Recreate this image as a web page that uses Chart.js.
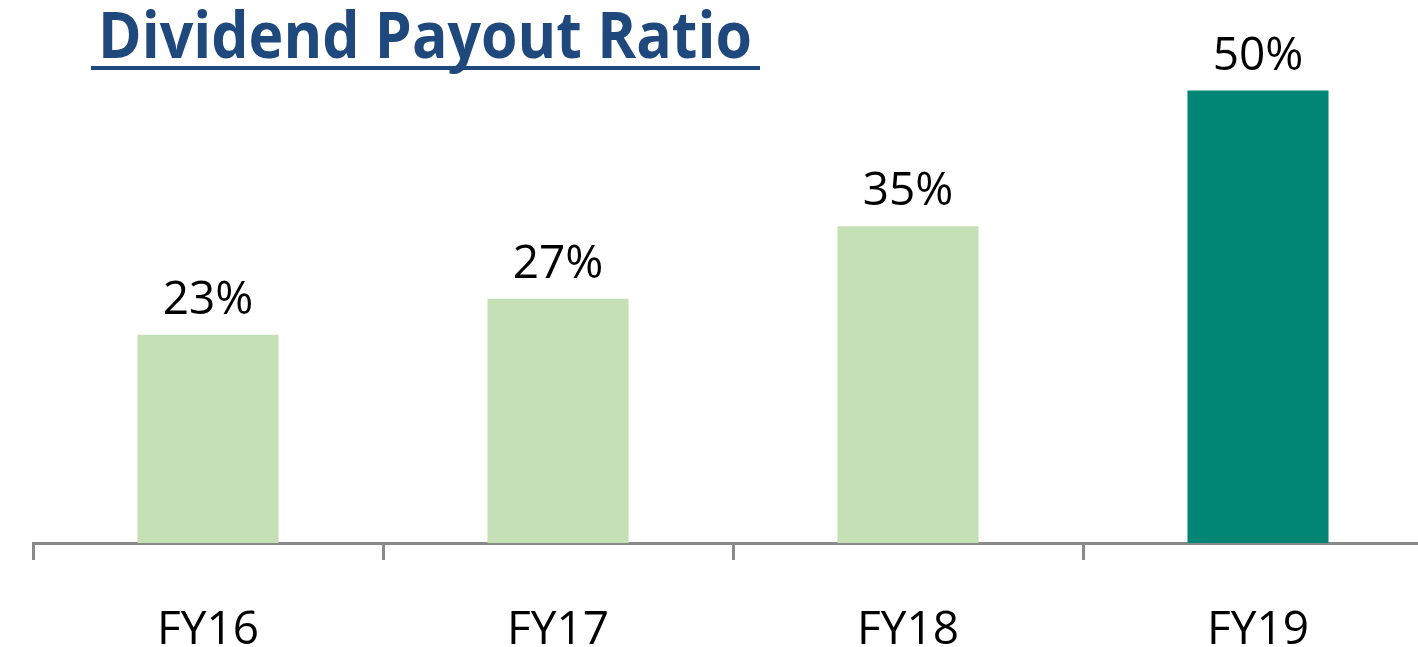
<!DOCTYPE html>
<html>
<head>
<meta charset="utf-8">
<script src="https://cdn.jsdelivr.net/npm/chart.js@4"></script>
<style>
  body { margin: 0; background: #fff; overflow: hidden; }
  #wrap { position: absolute; left: 0; top: 0; width: 1440px; height: 647px; }
  #title {
    position: absolute; left: 91px; top: 1px; width: 669px; height: 64px;
    padding-bottom: 1px; border-bottom: 4px solid #1F497D;
    font-family: 'Open Sans', sans-serif; font-weight: bold; font-size: 65px;
    line-height: 64px; color: #1F497D; white-space: nowrap;
  }
  #title span { display: inline-block; margin-left: 7px; transform-origin: 0 0; }
</style>
</head>
<body>
<div id="wrap">
  <canvas id="myChart" width="1440" height="647"></canvas>
</div>
<div id="title"><span id="titleText">Dividend Payout Ratio</span></div>
<script>
// chart values
const categories = ['FY16', 'FY17', 'FY18', 'FY19'];
const payoutRatio = [23, 27, 35, 50];
const barColors = ['#C5E0B4', '#C5E0B4', '#C5E0B4', '#038575'];

document.addEventListener('DOMContentLoaded', function() {
    // squeeze title to the width of the original (Calibri-like) text
    const t = document.getElementById('titleText');
    const w = t.getBoundingClientRect().width;
    t.style.transform = 'scaleX(' + (654 / w) + ')';

    Chart.defaults.font.family = "'Open Sans', sans-serif";

    const valueLabels = {
        id: 'valueLabels',
        afterDatasetsDraw(chart) {
            const ctx = chart.ctx;
            const meta = chart.getDatasetMeta(0);
            ctx.save();
            ctx.font = '46px "Open Sans", sans-serif';
            ctx.fillStyle = '#000';
            ctx.textAlign = 'center';
            ctx.textBaseline = 'alphabetic';
            meta.data.forEach(function(bar, i) {
                ctx.fillText(payoutRatio[i] + '%', bar.x, bar.y - 21);
            });
            ctx.restore();
        }
    };

    const config = {
        type: 'bar',
        data: {
            labels: categories,
            datasets: [{
                label: 'Dividend Payout Ratio',
                data: payoutRatio,
                backgroundColor: barColors,
                borderWidth: 0,
                barPercentage: 0.403,
                categoryPercentage: 1
            }]
        },
        options: {
            responsive: false,
            animation: false,
            devicePixelRatio: 1,
            layout: { padding: { left: 33, right: 7, top: 0, bottom: 0 } },
            plugins: {
                legend: { display: false },
                tooltip: { enabled: false }
            },
            scales: {
                x: {
                    afterFit: function(scale) { scale.height = 104; },
                    grid: {
                        offset: true,
                        drawOnChartArea: false,
                        drawTicks: true,
                        tickLength: 17,
                        color: '#8A8A8A',
                        lineWidth: 3
                    },
                    border: { display: true, color: '#8A8A8A', width: 3 },
                    ticks: {
                        color: '#000',
                        font: { size: 46 },
                        padding: 43,
                        maxRotation: 0
                    }
                },
                y: {
                    display: false,
                    min: 0,
                    max: 60
                }
            }
        },
        plugins: [valueLabels]
    };

    const ctx = document.getElementById('myChart').getContext('2d');
    new Chart(ctx, config);
});
</script>
</body>
</html>
